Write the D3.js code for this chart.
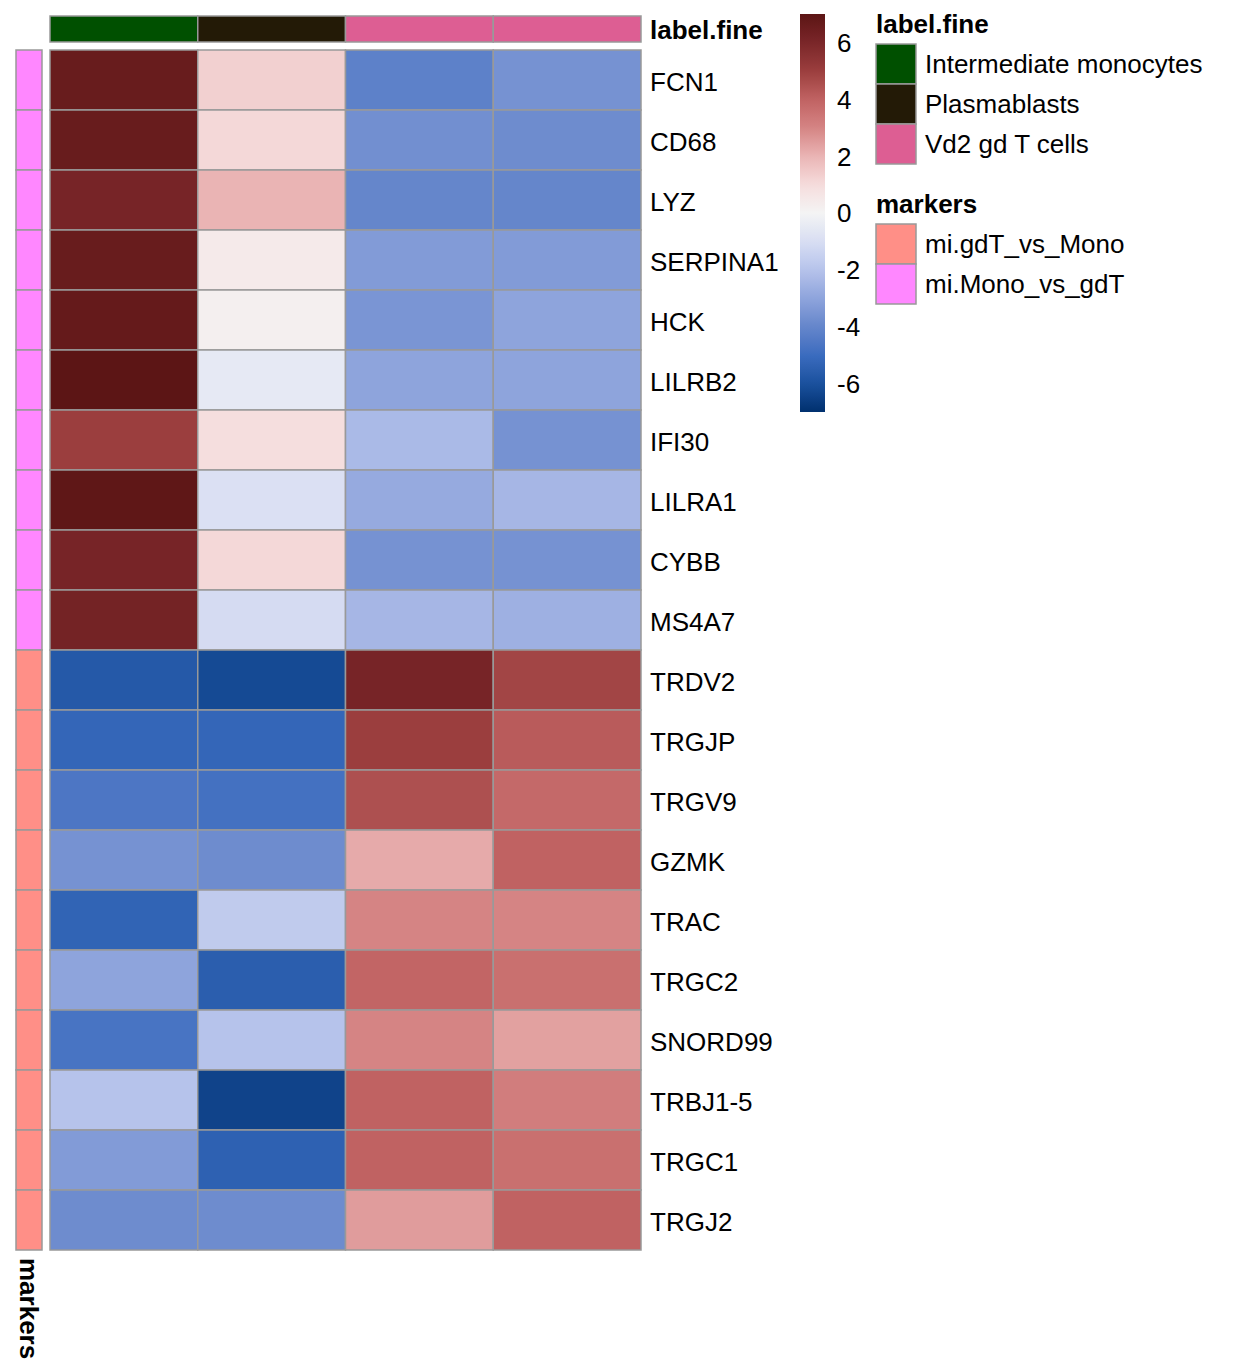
<!DOCTYPE html>
<html><head><meta charset="utf-8">
<script src="https://cdn.jsdelivr.net/npm/d3@7"></script>
<style>body{margin:0;background:#fff}svg{display:block;font-family:"Liberation Sans",Arial,sans-serif}</style>
</head><body><svg id="c" width="1248" height="1372"></svg>
<script>
const genes = ["FCN1","CD68","LYZ","SERPINA1","HCK","LILRB2","IFI30","LILRA1","CYBB","MS4A7",
  "TRDV2","TRGJP","TRGV9","GZMK","TRAC","TRGC2","SNORD99","TRBJ1-5","TRGC1","TRGJ2"];
const columns = ["c1","c2","c3","c4"];
const colLabelFine = ["Intermediate monocytes","Plasmablasts","Vd2 gd T cells","Vd2 gd T cells"];
const rowMarkers = ["mi.Mono_vs_gdT","mi.Mono_vs_gdT","mi.Mono_vs_gdT","mi.Mono_vs_gdT","mi.Mono_vs_gdT",
  "mi.Mono_vs_gdT","mi.Mono_vs_gdT","mi.Mono_vs_gdT","mi.Mono_vs_gdT","mi.Mono_vs_gdT",
  "mi.gdT_vs_Mono","mi.gdT_vs_Mono","mi.gdT_vs_Mono","mi.gdT_vs_Mono","mi.gdT_vs_Mono",
  "mi.gdT_vs_Mono","mi.gdT_vs_Mono","mi.gdT_vs_Mono","mi.gdT_vs_Mono","mi.gdT_vs_Mono"];
const values = [
  [6.6, 1.3, -4.2, -3.6],
  [6.6, 1.1, -3.7, -3.8],
  [6.1, 2.0, -4.0, -4.0],
  [6.6, 0.4, -3.3, -3.3],
  [6.7, 0.2, -3.5, -3.0],
  [7.0, -0.5, -3.0, -3.0],
  [5.0, 0.9, -2.3, -3.6],
  [6.9, -0.9, -2.8, -2.4],
  [6.1, 1.1, -3.6, -3.6],
  [6.2, -1.1, -2.4, -2.6],
  [-5.7, -6.2, 6.1, 4.8],
  [-5.2, -5.2, 5.0, 4.2],
  [-4.6, -4.8, 4.5, 3.8],
  [-3.6, -3.8, 2.2, 4.0],
  [-5.3, -1.7, 3.0, 3.0],
  [-3.0, -5.5, 3.9, 3.6],
  [-4.7, -2.0, 3.0, 2.4],
  [-2.0, -6.4, 4.0, 3.2],
  [-3.3, -5.4, 4.0, 3.6],
  [-3.8, -3.8, 2.5, 4.0]
];
const labelFineLevels = ["Intermediate monocytes","Plasmablasts","Vd2 gd T cells"];
const labelFineColors = ["#005000","#231a06","#dd5e93"];
const markerLevels = ["mi.gdT_vs_Mono","mi.Mono_vs_gdT"];
const markerColors = ["#ff8f87","#ff87ff"];
const legendTicks = [6,4,2,0,-2,-4,-6];
const colorStops = [-7,-6,-5,-4,-3,-2,-1,0,1,2,3,4,5,6,7];
const colorRange = ["#00306e","#1a519e","#3a6cbf","#6586cb","#8ea4dc","#b6c3eb","#d8def3","#f4f4f4",
  "#f5dcdc","#eab4b4","#d58484","#c06262","#9b3e3e","#7a2629","#5c1515"];

const divColor = d3.scaleLinear().domain(colorStops).range(colorRange).interpolate(d3.interpolateLab).clamp(true);

const svg = d3.select("#c");
const FS = 26;
const hx0 = 50, hx1 = 641, hy0 = 50, hy1 = 1250;
const x = d3.scaleBand().domain(columns).range([hx0, hx1]);
const y = d3.scaleBand().domain(genes).range([hy0, hy1]);
const BORDER = "#999999";

// heatmap body
const cells = [];
genes.forEach((g, r) => columns.forEach((c, k) => cells.push({g, c, v: values[r][k]})));
svg.append("g").selectAll("rect").data(cells).join("rect")
  .attr("x", d => x(d.c)).attr("y", d => y(d.g))
  .attr("width", x.bandwidth()).attr("height", y.bandwidth())
  .attr("fill", d => divColor(d.v)).attr("stroke", BORDER).attr("stroke-width", 1.5);

// column annotation
const lfScale = d3.scaleOrdinal().domain(labelFineLevels).range(labelFineColors);
svg.append("g").selectAll("rect").data(columns).join("rect")
  .attr("x", d => x(d)).attr("y", 16).attr("width", x.bandwidth()).attr("height", 26)
  .attr("fill", (d, i) => lfScale(colLabelFine[i])).attr("stroke", BORDER).attr("stroke-width", 1.5);
svg.append("text").attr("x", 650).attr("y", 30).attr("dy", "0.36em")
  .attr("font-size", FS).attr("font-weight", "bold").text("label.fine");

// row annotation
const mkScale = d3.scaleOrdinal().domain(markerLevels).range(markerColors);
svg.append("g").selectAll("rect").data(genes).join("rect")
  .attr("x", 16).attr("y", d => y(d)).attr("width", 26).attr("height", y.bandwidth())
  .attr("fill", (d, i) => mkScale(rowMarkers[i])).attr("stroke", BORDER).attr("stroke-width", 1.5);
svg.append("text").attr("transform", "translate(29,1258) rotate(90)").attr("dy", "0.36em")
  .attr("font-size", FS).attr("font-weight", "bold").text("markers");

// row labels
svg.append("g").selectAll("text").data(genes).join("text")
  .attr("x", 650).attr("y", d => y(d) + y.bandwidth() / 2 + 2).attr("dy", "0.36em")
  .attr("font-size", FS).text(d => d);

// color bar legend
const cbY = d3.scaleLinear().domain([-7, 7]).range([412, 14]);
const defs = svg.append("defs");
const grad = defs.append("linearGradient").attr("id", "cb").attr("x1", 0).attr("y1", 1).attr("x2", 0).attr("y2", 0);
d3.range(0, 1.0001, 0.02).forEach(t => grad.append("stop").attr("offset", t)
  .attr("stop-color", divColor(-7 + t * 14)));
svg.append("rect").attr("x", 800).attr("y", 14).attr("width", 25).attr("height", 398).attr("fill", "url(#cb)");
svg.append("g").selectAll("text").data(legendTicks).join("text")
  .attr("x", 837).attr("y", d => cbY(d)).attr("dy", "0.36em").attr("font-size", FS).text(d => d);

// discrete legends
function discLegend(title, levels, colors, top) {
  const g = svg.append("g");
  g.append("text").attr("x", 876).attr("y", top).attr("dy", "0.36em").attr("font-size", FS)
    .attr("font-weight", "bold").text(title);
  const ly = d3.scaleBand().domain(levels).range([top + 20, top + 20 + 40 * levels.length]);
  g.selectAll("rect").data(levels).join("rect").attr("x", 876).attr("y", d => ly(d))
    .attr("width", 40).attr("height", ly.bandwidth()).attr("fill", (d, i) => colors[i])
    .attr("stroke", BORDER).attr("stroke-width", 1.5);
  g.selectAll("text.l").data(levels).join("text").attr("class", "l").attr("x", 925)
    .attr("y", d => ly(d) + ly.bandwidth() / 2).attr("dy", "0.36em").attr("font-size", FS).text(d => d);
}
discLegend("label.fine", labelFineLevels, labelFineColors, 24);
discLegend("markers", markerLevels, markerColors, 204);
</script></body></html>
